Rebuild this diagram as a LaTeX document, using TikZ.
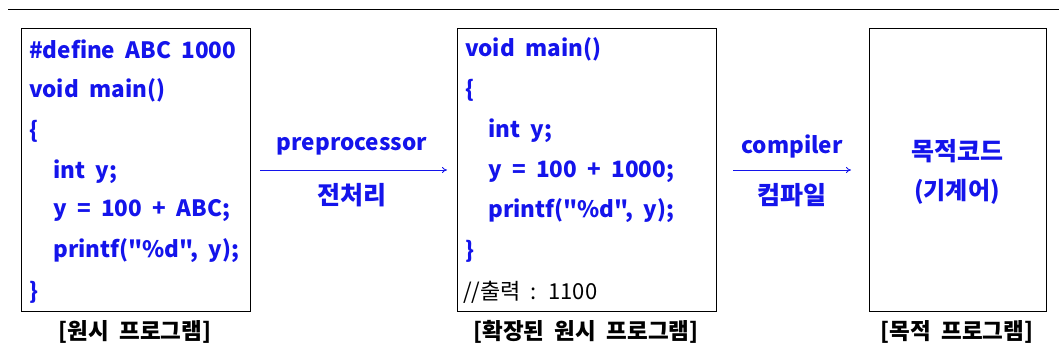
\documentclass[tikz,border=0pt]{standalone}
\usepackage{fontspec}
\setmainfont{Noto Sans CJK KR}[Ligatures=TeXOff, WordSpace=2]
\usetikzlibrary{arrows.meta}
\definecolor{codeblue}{RGB}{20,20,235}
\tikzset{
  frame/.style={draw=black, line width=0.9pt},
  code/.style={anchor=west, inner sep=0pt, text=codeblue, font=\fontsize{22.5}{24}\selectfont\bfseries},
  plain/.style={anchor=west, inner sep=0pt, text=black, font=\fontsize{22}{24}\selectfont},
  caption/.style={inner sep=0pt, text=black, font=\fontsize{22.5}{24}\selectfont\bfseries},
  lbl/.style={inner sep=0pt, text=codeblue, font=\fontsize{22.5}{24}\selectfont\bfseries},
  klbl/.style={inner sep=0pt, text=codeblue, font=\fontsize{25}{27}\selectfont\bfseries},
  conn/.style={draw=codeblue, line width=0.8pt, -{To[length=5pt,width=6pt]}},
}
\begin{document}
\begin{tikzpicture}[x=1pt,y=-1pt]
\useasboundingbox (0,0) rectangle (1059,360);
\coordinate (tl) at (8,9.5);
\coordinate (tr) at (1059,9.5);
\draw[line width=0.9pt] (tl) -- (tr);
% boxes
\node[frame, minimum width=229pt, minimum height=283pt, inner sep=0pt, anchor=north west] (b1) at (21,28) {};
\node[frame, minimum width=259pt, minimum height=283pt, inner sep=0pt, anchor=north west] (b2) at (457,28) {};
\node[frame, minimum width=177pt, minimum height=283pt, inner sep=0pt, anchor=north west] (b3) at (869,28) {};
% box 1 code
\node[code] (a1) at (29,49) {\#define ABC 1000};
\node[code] (a2) at (29,90) {void main()};
\node[code] (a3) at (29,131) {\{};
\node[code] (a4) at (53,172) {int y;};
\node[code] (a5) at (53,211) {y = 100 + ABC;};
\node[code] (a6) at (53,251) {printf("\%d", y);};
\node[code] (a7) at (29,292) {\}};
% box 2 code
\node[code] (c1) at (465,49) {void main()};
\node[code] (c2) at (465,90) {\{};
\node[code] (c3) at (488,131) {int y;};
\node[code] (c4) at (488,172) {y = 100 + 1000;};
\node[code] (c5) at (488,211) {printf("\%d", y);};
\node[code] (c6) at (465,251) {\}};
\node[plain] (c7) at (463,292) {//출력 : 1100};
% box 3 text
\node[klbl] (d1) at (957,151) {목적코드};
\node[klbl, font=\fontsize{24}{26}\selectfont\bfseries] (d2) at (957,192) {(기계어)};
% captions
\node[caption] (k1) at (135,332) {[원시 프로그램]};
\node[caption] (k2) at (586,332) {[확장된 원시 프로그램]};
\node[caption] (k3) at (957,332) {[목적 프로그램]};
% arrows
\coordinate (p1s) at (260,170);
\coordinate (p1e) at (447,170);
\draw[conn] (p1s) -- (p1e);
\node[lbl] (l1) at (352,146) {preprocessor};
\node[klbl] (l2) at (352,195) {전처리};
\coordinate (p2s) at (733,170);
\coordinate (p2e) at (851,170);
\draw[conn] (p2s) -- (p2e);
\node[lbl] (l3) at (792,146) {compiler};
\node[klbl] (l4) at (792,195) {컴파일};
\end{tikzpicture}
\end{document}
